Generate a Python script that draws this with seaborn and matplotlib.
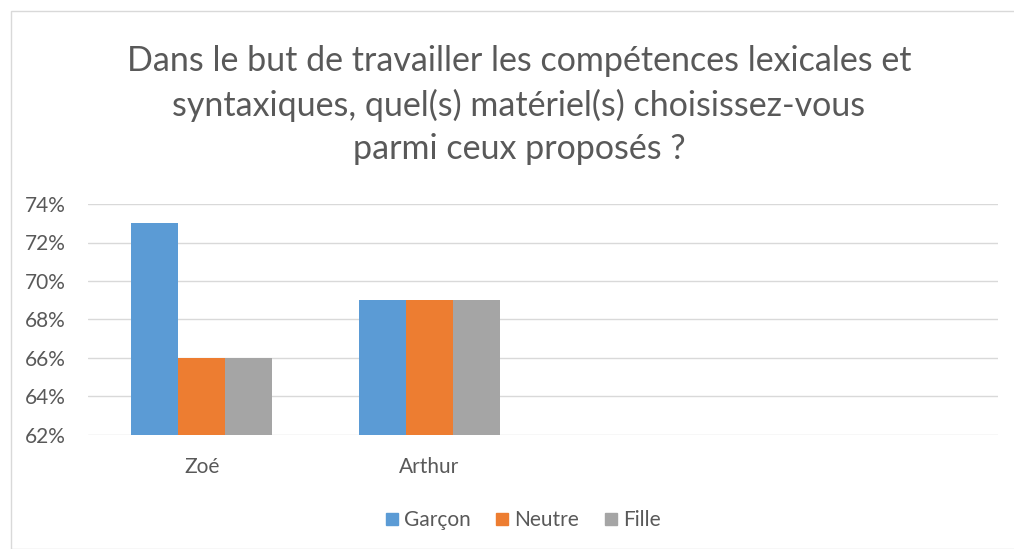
import matplotlib
matplotlib.use("Agg")
import matplotlib.pyplot as plt
import seaborn as sns
import pandas as pd
from matplotlib.lines import Line2D
from matplotlib.patches import Rectangle
from matplotlib.ticker import PercentFormatter

categories = ["Zoé", "Arthur"]
series = ["Garçon", "Neutre", "Fille"]
garcon = [0.73, 0.69]
neutre = [0.66, 0.69]
fille = [0.66, 0.69]
yticks = [0.62, 0.64, 0.66, 0.68, 0.70, 0.72, 0.74]
colors = ["#5B9BD5", "#ED7D31", "#A5A5A5"]
title = ("Dans le but de travailler les compétences lexicales et\n"
         "syntaxiques, quel(s) matériel(s) choisissez-vous\n"
         "parmi ceux proposés ?")

rows = []
for s, vals in zip(series, [garcon, neutre, fille]):
    for c, v in zip(categories, vals):
        rows.append({"cat": c, "serie": s, "val": v})
df = pd.DataFrame(rows)

sns.set_theme(style="white")
plt.rcParams['font.family'] = ['Lato', 'DejaVu Sans']
text_color = "#595959"

fig = plt.figure(figsize=(10.14, 5.49), dpi=100)
ax = fig.add_axes([88/1014, 1-435/549, 910/1014, 231/549])
sns.barplot(data=df, x="cat", y="val", hue="serie", order=categories,
            hue_order=series, palette=colors, width=0.62, ax=ax,
            saturation=1, legend=False, edgecolor="none")
ax.set_xlim(-0.5, 3.5)
ax.set_ylim(0.62, 0.74)
ax.set_yticks(yticks)
ax.yaxis.set_major_formatter(PercentFormatter(1.0, decimals=0))
ax.grid(axis="y", color="#D9D9D9", linewidth=1)
ax.set_axisbelow(True)
for sp in ax.spines.values():
    sp.set_visible(False)
ax.set_xlabel("")
ax.set_ylabel("")
ax.tick_params(axis="both", length=0, labelsize=15, colors=text_color)
ax.tick_params(axis="y", pad=16)
ax.tick_params(axis="x", pad=16)

fig.text(519/1014, 1-105/549, title, ha="center", va="center",
         fontsize=24.5, color=text_color, linespacing=1.42)

handles = [Line2D([0], [0], marker="s", linestyle="none", markersize=8,
                  markerfacecolor=c, markeredgecolor=c) for c in colors]
fig.legend(handles, series, loc="center", bbox_to_anchor=(522/1014, 1-520/549),
           ncol=3, frameon=False, fontsize=15, handletextpad=0.2,
           columnspacing=1.1, labelcolor=text_color, handlelength=0.8)

fig.add_artist(Rectangle((11/1014, 0), 1.2, 1-11/549, transform=fig.transFigure,
                         fill=False, edgecolor="#D9D9D9", linewidth=1))

fig.savefig("out.png", dpi=100)
